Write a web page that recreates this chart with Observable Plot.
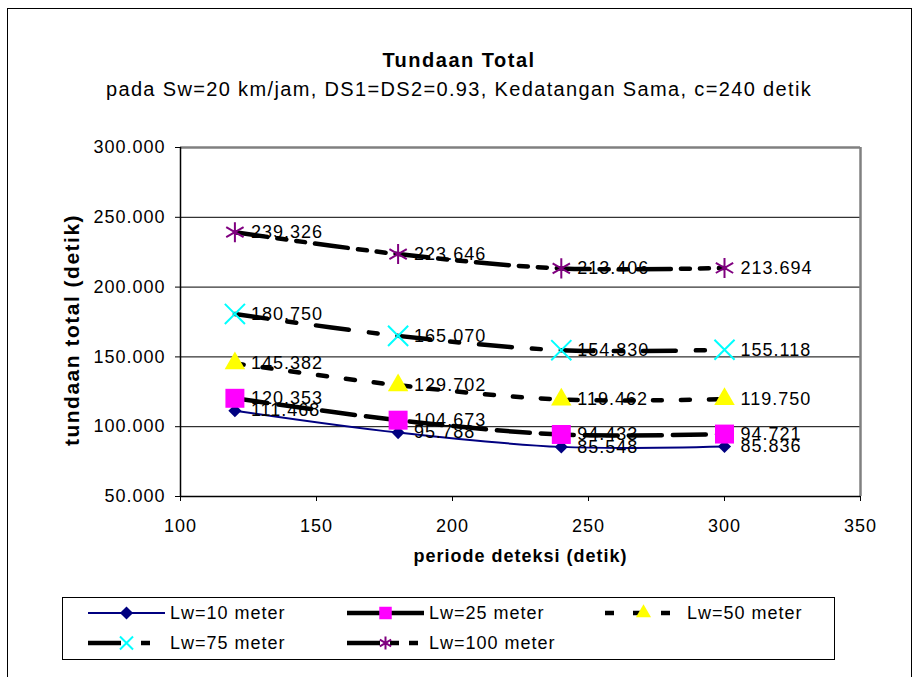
<!DOCTYPE html>
<html><head><meta charset="utf-8">
<script src="https://cdn.jsdelivr.net/npm/d3@7"></script>
<script src="https://cdn.jsdelivr.net/npm/@observablehq/plot@0.6"></script>
<style>
body{margin:0;background:#fff;font-family:"Liberation Sans",Arial,sans-serif;}
#wrap{position:relative;width:918px;height:677px;overflow:hidden;background:#fff}
#frame{position:absolute;left:7px;top:8px;width:905px;height:720px;border:1px solid #000;box-sizing:border-box}
.t{position:absolute;left:0;width:918px;text-align:center;white-space:nowrap;color:#000}
#title{top:50px;font-size:20px;font-weight:bold;line-height:20px;letter-spacing:1.5px}
#subtitle{top:79px;font-size:20px;line-height:20px;letter-spacing:1.35px}
#chart{position:absolute;left:0;top:120px}
#legend{position:absolute;left:62px;top:597px}
</style></head><body>
<div id="wrap">
<div id="frame"></div>
<div id="title" class="t">Tundaan Total</div>
<div id="subtitle" class="t">pada Sw=20 km/jam, DS1=DS2=0.93, Kedatangan Sama, c=240 detik</div>
<div id="chart"></div>
<svg id="legend" width="774" height="64"></svg>
</div>
<script>
// ---- data ----
const periode = [120, 180, 240, 300];
const seriesNames = ["Lw=10 meter", "Lw=25 meter", "Lw=50 meter", "Lw=75 meter", "Lw=100 meter"];
const lw10 = [111.468, 95.788, 85.548, 85.836];
const lw25 = [120.353, 104.673, 94.433, 94.721];
const lw50 = [145.382, 129.702, 119.462, 119.750];
const lw75 = [180.750, 165.070, 154.830, 155.118];
const lw100 = [239.326, 223.646, 213.406, 213.694];
const xTicks = [100, 150, 200, 250, 300, 350];
const yTicks = [50, 100, 150, 200, 250, 300];
const gridY = [100, 150, 200, 250];
const titleX = "periode deteksi (detik)";
const titleY = "tundaan total (detik)";

// ---- styles ----
const lineColor = ["#000080", "#000", "#000", "#000", "#000"];
const lineWidth = [2, 4.5, 4.5, 4.5, 4.5];
const lineDash = [null, "33,11", "9,19", "33,20,9,20", "33,10,9,10,9,10"];
const symbolName = ["diamond2", "square", "triangle", "times", "asterisk"];
const symbolR = [5.9, 10.7, 7.6, 9.2, 9.5];
const legendR = [5.9, 7.05, 5.6, 6.0, 6.2];
const markFill = ["#000080", "#FF00FF", "#FFFF00", "none", "none"];
const markStroke = ["none", "none", "none", "#00FFFF", "#800080"];
const markStrokeW = [0, 0, 0, 2, 2];

const allValues = [lw10, lw25, lw50, lw75, lw100];
const rows = [];
allValues.forEach((vals, i) => periode.forEach((p, j) => rows.push({series: seriesNames[i], idx: i, periode: p, value: vals[j]})));

const marks = [
  Plot.ruleY(gridY, {stroke: "#000", strokeWidth: 1}),
  Plot.ruleY([300], {stroke: "#808080", strokeWidth: 2.5}),
  Plot.ruleX([350], {stroke: "#808080", strokeWidth: 2.5}),
  Plot.axisY({ticks: yTicks, tickSize: 5, tickPadding: 10, tickFormat: d => d.toFixed(3), label: null, stroke: "#000"}),
  Plot.axisX({ticks: xTicks, tickSize: 5, tickPadding: 18, tickFormat: d => String(d), label: null, stroke: "#000"}),
  Plot.ruleX([100], {stroke: "#000", strokeWidth: 1.5}),
  Plot.ruleY([50], {stroke: "#000", strokeWidth: 1.5})
];
allValues.forEach((_, i) => {
  const data = rows.filter(d => d.idx === i);
  const opts = {x: "periode", y: "value", stroke: lineColor[i], strokeWidth: lineWidth[i], curve: "catmull-rom"};
  if (lineDash[i]) opts.strokeDasharray = lineDash[i];
  marks.push(Plot.line(data, opts));
});
allValues.forEach((_, i) => {
  const data = rows.filter(d => d.idx === i);
  marks.push(Plot.dot(data, {x: "periode", y: "value", symbol: symbolName[i], r: symbolR[i],
    fill: markFill[i], stroke: markStroke[i], strokeWidth: markStrokeW[i]}));
});
marks.push(Plot.text(rows, {x: "periode", y: "value", text: d => d.value.toFixed(3), textAnchor: "start", dx: 16, fill: "#000"}));
marks.push(Plot.text([titleX], {frameAnchor: "bottom", dy: 65, fontWeight: "bold", fontSize: 18, fill: "#000"}));
marks.push(Plot.text([titleY], {frameAnchor: "left", textAnchor: "middle", rotate: -90, dx: -108, dy: 8, fontWeight: "bold", fontSize: 21, fill: "#000"}));

const chart = Plot.plot({
  width: 918, height: 460,
  marginLeft: 180, marginRight: 58, marginTop: 27, marginBottom: 84,
  x: {domain: [100, 350]},
  y: {domain: [50, 300]},
  style: {fontFamily: "'Liberation Sans', Arial, sans-serif", fontSize: "18px", letterSpacing: "1px", background: "transparent", overflow: "visible", color: "#000"},
  marks
});
// slightly wider spacing on the rotated y title
d3.select(chart).selectAll("text").filter(function() { return this.textContent === titleY; }).style("letter-spacing", "1.5px");
document.getElementById("chart").appendChild(chart);

// ---- legend ----
const lg = d3.select("#legend");
lg.append("rect").attr("x", 0.5).attr("y", 0.5).attr("width", 772).attr("height", 62)
  .attr("fill", "#fff").attr("stroke", "#000");
const colX = [26, 285, 543];
const rowY = [16, 46];
const d3sym = {diamond2: d3.symbolDiamond2, square: d3.symbolSquare, triangle: d3.symbolTriangle, times: d3.symbolTimes, asterisk: d3.symbolAsterisk};
seriesNames.forEach((name, i) => {
  const cx = colX[i % 3], cy = rowY[Math.floor(i / 3)];
  const ln = lg.append("line").attr("x1", cx).attr("x2", cx + 77).attr("y1", cy).attr("y2", cy)
    .attr("stroke", lineColor[i]).attr("stroke-width", lineWidth[i]);
  if (lineDash[i]) ln.attr("stroke-dasharray", lineDash[i]);
  lg.append("path").attr("transform", `translate(${cx + 38.5},${cy})`)
    .attr("d", d3.symbol(d3sym[symbolName[i]], Math.PI * legendR[i] * legendR[i])())
    .attr("fill", markFill[i]).attr("stroke", markStroke[i]).attr("stroke-width", markStrokeW[i]);
  lg.append("text").attr("x", cx + 82).attr("y", cy).attr("dy", "0.35em")
    .attr("font-family", "'Liberation Sans', Arial, sans-serif").attr("font-size", 18)
    .style("letter-spacing", "1px").attr("fill", "#000").text(name);
});
</script>
</body></html>
